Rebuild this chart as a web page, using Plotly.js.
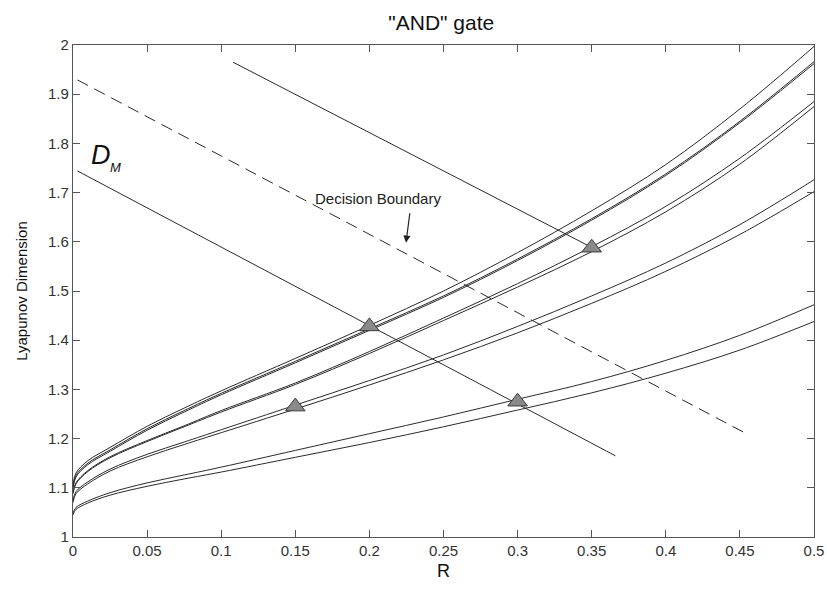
<!DOCTYPE html>
<html>
<head>
<meta charset="utf-8">
<script src="https://cdn.plot.ly/plotly-3.0.1.min.js"></script>
<style>
  html, body { margin: 0; padding: 0; background: #fff; }
  #chart { width: 827px; height: 590px; }
</style>
</head>
<body>
<div id="chart"></div>
<script>
// ---- data ----
const R = [0, 0.002, 0.01, 0.025, 0.05, 0.075, 0.1, 0.15, 0.2, 0.25, 0.3, 0.35, 0.4, 0.45, 0.5];

const curveA1 = [1.105, 1.13, 1.155, 1.182, 1.225, 1.262, 1.297, 1.363, 1.43, 1.50, 1.578, 1.663, 1.757, 1.87, 1.997];
const curveA2 = [1.10, 1.125, 1.15, 1.177, 1.22, 1.257, 1.292, 1.357, 1.423, 1.49, 1.565, 1.647, 1.738, 1.845, 1.966];
const curveA3 = [1.098, 1.122, 1.147, 1.174, 1.217, 1.254, 1.289, 1.354, 1.42, 1.487, 1.562, 1.644, 1.735, 1.842, 1.962];
const curveB1 = [1.09, 1.11, 1.135, 1.163, 1.196, 1.226, 1.257, 1.313, 1.377, 1.445, 1.515, 1.59, 1.672, 1.77, 1.885];
const curveB2 = [1.088, 1.108, 1.133, 1.161, 1.194, 1.224, 1.254, 1.31, 1.373, 1.44, 1.508, 1.58, 1.661, 1.758, 1.875];
const curveC1 = [1.074, 1.092, 1.112, 1.138, 1.168, 1.193, 1.218, 1.268, 1.318, 1.37, 1.428, 1.49, 1.557, 1.635, 1.726];
const curveC2 = [1.07, 1.088, 1.108, 1.134, 1.163, 1.188, 1.212, 1.26, 1.309, 1.36, 1.415, 1.475, 1.54, 1.615, 1.702];
const curveD1 = [1.048, 1.06, 1.073, 1.09, 1.11, 1.126, 1.142, 1.176, 1.21, 1.244, 1.28, 1.316, 1.359, 1.41, 1.472];
const curveD2 = [1.045, 1.056, 1.069, 1.085, 1.103, 1.118, 1.132, 1.162, 1.192, 1.224, 1.258, 1.293, 1.333, 1.38, 1.438];

// triangle markers
const markerR = [0.15, 0.2, 0.3, 0.35];
const markerD = [1.265, 1.428, 1.275, 1.588];

// straight lines (end points)
const dmLineR = [0.003, 0.366];
const dmLineD = [1.744, 1.165];
const upperLineR = [0.108, 0.351];
const upperLineD = [1.965, 1.587];
const boundaryR = [0.003, 0.455];
const boundaryD = [1.929, 1.209];

// ticks
const xTickVals = [0, 0.05, 0.1, 0.15, 0.2, 0.25, 0.3, 0.35, 0.4, 0.45, 0.5];
const xTickText = ['0', '0.05', '0.1', '0.15', '0.2', '0.25', '0.3', '0.35', '0.4', '0.45', '0.5'];
const yTickVals = [1, 1.1, 1.2, 1.3, 1.4, 1.5, 1.6, 1.7, 1.8, 1.9, 2];
const yTickText = ['1', '1.1', '1.2', '1.3', '1.4', '1.5', '1.6', '1.7', '1.8', '1.9', '2'];

// ---- build ----
const FONT = 'Liberation Sans, Arial, Helvetica, sans-serif';
const curveColor = '#2a2a2a';
const curves = [curveA1, curveA2, curveA3, curveB1, curveB2, curveC1, curveC2, curveD1, curveD2];

const traces = curves.map(ys => ({
  x: R, y: ys, type: 'scatter', mode: 'lines',
  line: { color: curveColor, width: 1, shape: 'spline', smoothing: 1 },
  hoverinfo: 'skip', showlegend: false
}));

traces.push({
  x: dmLineR, y: dmLineD, type: 'scatter', mode: 'lines',
  line: { color: curveColor, width: 1 }, showlegend: false
});
traces.push({
  x: upperLineR, y: upperLineD, type: 'scatter', mode: 'lines',
  line: { color: curveColor, width: 1 }, showlegend: false
});
traces.push({
  x: boundaryR, y: boundaryD, type: 'scatter', mode: 'lines',
  line: { color: curveColor, width: 1, dash: '12px,7px' }, showlegend: false
});
traces.push({
  x: markerR, y: markerD, type: 'scatter', mode: 'markers',
  marker: { symbol: 'triangle-up', size: 17, color: '#8a8a8a', line: { color: '#3a3a3a', width: 1 } },
  showlegend: false
});

const axisCommon = {
  showgrid: false, zeroline: false, showline: true, mirror: 'ticks',
  linecolor: '#555', linewidth: 1.2,
  ticks: 'inside', ticklen: 7, tickwidth: 1, tickcolor: '#555',
  tickfont: { family: FONT, size: 15, color: '#333' }
};

const layout = {
  width: 827, height: 590,
  margin: { l: 73, r: 13, t: 45, b: 53 },
  paper_bgcolor: '#fff', plot_bgcolor: '#fff',
  font: { family: FONT, color: '#111' },
  title: {
    text: '"AND" gate',
    font: { family: FONT, size: 21, color: '#111' },
    xref: 'paper', x: 0.497, xanchor: 'center',
    yref: 'container', y: 0.962, yanchor: 'middle'
  },
  xaxis: Object.assign({}, axisCommon, {
    range: [0, 0.5], tickmode: 'array', tickvals: xTickVals, ticktext: xTickText,
    title: { text: 'R', font: { family: FONT, size: 18, color: '#111' }, standoff: 6 }
  }),
  yaxis: Object.assign({}, axisCommon, {
    range: [1, 2], tickmode: 'array', tickvals: yTickVals, ticktext: yTickText,
    title: { text: 'Lyapunov Dimension', font: { family: FONT, size: 15, color: '#111' }, standoff: 16 }
  }),
  annotations: [
    {
      x: 0.2058, y: 1.689, xref: 'x', yref: 'y', text: 'Decision Boundary',
      showarrow: false, font: { family: FONT, size: 15, color: '#222' }
    },
    {
      x: 0.2247, y: 1.598, ax: 0.2274, ay: 1.661, xref: 'x', yref: 'y', axref: 'x', ayref: 'y',
      text: '', showarrow: true, arrowhead: 2, arrowsize: 1.2, arrowwidth: 1.2,
      arrowcolor: '#222', standoff: 0, startstandoff: 0
    },
    {
      x: 0.0105, y: 1.777, xref: 'x', yref: 'y', xanchor: 'left', yanchor: 'middle',
      text: '<i>D</i>', showarrow: false, font: { family: FONT, size: 27, color: '#111' }
    },
    {
      x: 0.0235, y: 1.751, xref: 'x', yref: 'y', xanchor: 'left', yanchor: 'middle',
      text: '<i>M</i>', showarrow: false, font: { family: FONT, size: 13, color: '#111' }
    }
  ]
};

Plotly.newPlot('chart', traces, layout, { staticPlot: true, displayModeBar: false });
</script>
</body>
</html>
